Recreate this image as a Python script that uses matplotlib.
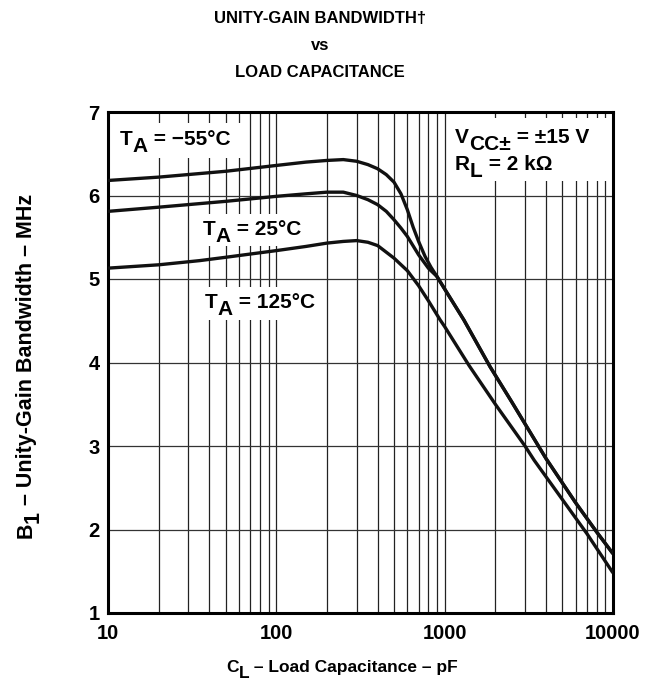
import matplotlib

matplotlib.use("Agg")
import matplotlib.pyplot as plt
from matplotlib.patches import Rectangle
from matplotlib.transforms import ScaledTranslation

plt.rcParams["font.family"] = ["Liberation Sans", "DejaVu Sans"]
plt.rcParams["font.weight"] = "bold"

# load capacitance (pF) and unity-gain bandwidth (MHz) per temperature
cap_m55 = [10, 20, 50, 100, 150, 200, 250, 300, 350, 400, 450, 500, 550, 600, 650, 700, 765, 830]
bw_m55 = [6.18, 6.22, 6.29, 6.36, 6.40, 6.42, 6.43, 6.41, 6.37, 6.32, 6.25, 6.16, 6.02, 5.83, 5.62, 5.45, 5.27, 5.14]

cap_25 = [10, 20, 50, 100, 150, 200, 250, 300, 350, 400, 450, 500, 550, 600, 700, 800]
bw_25 = [5.81, 5.86, 5.93, 5.99, 6.02, 6.04, 6.04, 6.00, 5.95, 5.89, 5.81, 5.71, 5.61, 5.51, 5.29, 5.13]

# above ~900 pF the -55 C and 25 C curves coincide
cap_tail = [900, 1000, 1300, 1860, 2500, 4000, 6000, 8000, 10000]
bw_tail = [5.03, 4.88, 4.51, 3.95, 3.53, 2.85, 2.32, 1.97, 1.71]

cap_125 = [10, 20, 35, 50, 100, 150, 200, 250, 300, 350, 400, 500, 600, 700, 800, 940, 1000,
           1400, 2000, 3000, 3400, 5000, 7000, 10000]
bw_125 = [5.13, 5.17, 5.22, 5.26, 5.34, 5.39, 5.43, 5.45, 5.46, 5.44, 5.40, 5.25, 5.10, 4.92,
          4.74, 4.51, 4.43, 3.96, 3.50, 3.00, 2.83, 2.36, 1.95, 1.48]

x_ticks = [10, 100, 1000, 10000]
x_minor = [m * d for d in (10, 100, 1000) for m in range(2, 10)]
y_ticks = [1, 2, 3, 4, 5, 6, 7]

W, H = 653, 682
AX_L, AX_R, AX_T, AX_B = 108, 613, 112, 613


def px_axes(px, py):
    return (px - AX_L) / (AX_R - AX_L), (AX_B - py) / (AX_B - AX_T)


def rich_text(target, x, y, parts, transform, size, rotation=0, center=False, **kw):
    """Draw text pieces side by side; each piece is (string, drop in points)."""
    fig = target if isinstance(target, plt.Figure) else target.figure
    renderer = fig.canvas.get_renderer()
    placed = []
    advance = 0.0
    for s, drop in parts:
        dx, dy = (drop, advance) if rotation == 90 else (advance, -drop)
        t = target.text(x, y, s, rotation=rotation, rotation_mode="anchor",
                        ha="left", va="baseline", fontsize=size, fontweight="bold",
                        transform=transform + ScaledTranslation(dx / 72, dy / 72, fig.dpi_scale_trans),
                        **kw)
        bb = t.get_window_extent(renderer)
        advance += (bb.height if rotation == 90 else bb.width) * 72 / fig.dpi
        placed.append((t, dx, dy))
    if center:
        shift = -advance / 2
        for t, dx, dy in placed:
            if rotation == 90:
                dy += shift
            else:
                dx += shift
            t.set_transform(transform + ScaledTranslation(dx / 72, dy / 72, fig.dpi_scale_trans))


fig = plt.figure(figsize=(W / 100, H / 100), dpi=100)
ax = fig.add_axes([AX_L / W, 1 - AX_B / H, (AX_R - AX_L) / W, (AX_B - AX_T) / H])

ax.set_xscale("log")
ax.set_xlim(10, 10000)
ax.set_ylim(1, 7)
ax.set_xticks(x_ticks, [str(v) for v in x_ticks])
ax.set_xticks(x_minor, minor=True)
ax.set_yticks(y_ticks, [str(v) for v in y_ticks])
ax.tick_params(which="both", length=0, labelsize=14.5)
ax.tick_params(axis="x", pad=8)
ax.tick_params(axis="y", pad=6)
for lab in ax.get_xticklabels() + ax.get_yticklabels():
    lab.set_fontweight("bold")

ax.set_axisbelow(True)
ax.grid(True, which="both", axis="x", color="#222222", lw=0.9)
ax.grid(True, which="major", axis="y", color="#333333", lw=0.9)
for sp in ax.spines.values():
    sp.set_linewidth(2.2)

# white panels behind the annotations
for x0, y0, x1, y1 in [(112, 123, 246, 158), (196, 214, 310, 246),
                       (196, 287, 318, 320), (452, 118, 609, 181)]:
    fx0, fy1 = px_axes(x0, y0)
    fx1, fy0 = px_axes(x1, y1)
    ax.add_patch(Rectangle((fx0, fy0), fx1 - fx0, fy1 - fy0, transform=ax.transAxes,
                           facecolor="white", edgecolor="none", zorder=1))

curve = dict(color="#111111", lw=2.4, solid_joinstyle="round", solid_capstyle="butt", zorder=3)
ax.plot(cap_m55 + cap_tail, bw_m55 + bw_tail, **curve)
ax.plot(cap_25 + cap_tail, bw_25 + bw_tail, **curve)
ax.plot(cap_125, bw_125, **curve)

ann = 15
sub = 4.8
rich_text(ax, *px_axes(120, 145), [("T", 0), ("A", sub), (" = \u221255\u00b0C", 0)], ax.transAxes, ann, zorder=4)
rich_text(ax, *px_axes(203, 235), [("T", 0), ("A", sub), (" = 25\u00b0C", 0)], ax.transAxes, ann, zorder=4)
rich_text(ax, *px_axes(205, 308), [("T", 0), ("A", sub), (" = 125\u00b0C", 0)], ax.transAxes, ann, zorder=4)
rich_text(ax, *px_axes(455, 143), [("V", 0), ("CC\u00b1", sub), (" = \u00b115 V", 0)], ax.transAxes, ann, zorder=4)
rich_text(ax, *px_axes(455, 170), [("R", 0), ("L", sub), (" = 2 k\u03a9", 0)], ax.transAxes, ann, zorder=4)

# title and axis labels
for text, py in [("UNITY-GAIN BANDWIDTH\u2020", 23), ("vs", 50), ("LOAD CAPACITANCE", 77)]:
    fig.text(320 / W, 1 - py / H, text, ha="center", va="baseline", fontsize=12, fontweight="bold")

rich_text(fig, 342 / W, 1 - 672 / H, [("C", 0), ("L", 4), (" \u2013 Load Capacitance \u2013 pF", 0)],
          fig.transFigure, 12.5, center=True)
rich_text(fig, 32 / W, 1 - 366 / H, [("B", 0), ("1", 4.5), (" \u2013 Unity-Gain Bandwidth \u2013 MHz", 0)],
          fig.transFigure, 15.5, rotation=90, center=True)

fig.savefig("out.png", dpi=100)
